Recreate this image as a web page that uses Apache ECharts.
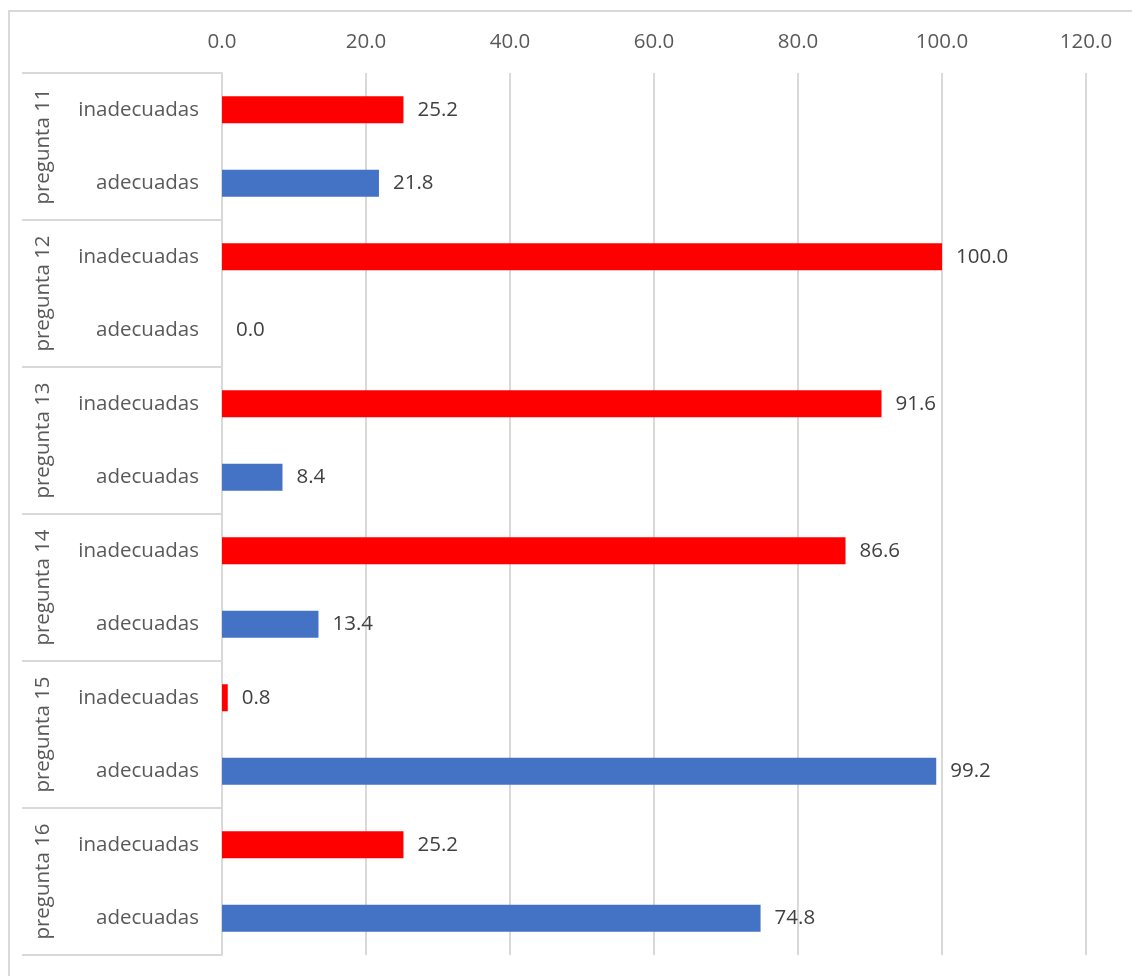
<!DOCTYPE html>
<html>
<head>
<meta charset="utf-8">
<script src="https://cdn.jsdelivr.net/npm/echarts@6/dist/echarts.min.js"></script>
<style>
  html, body { margin: 0; padding: 0; background: #fff; }
  #frame { position: absolute; left: 8px; top: 10px; width: 1200px; height: 1100px; border: 2px solid #d9d9d9; box-sizing: border-box; }
  #chart { position: absolute; left: 0; top: 0; width: 1132px; height: 976px; }
</style>
</head>
<body>
<div id="frame"></div>
<div id="chart"></div>
<script>
const groups = ['pregunta 11', 'pregunta 12', 'pregunta 13', 'pregunta 14', 'pregunta 15', 'pregunta 16'];
const subLabels = ['inadecuadas', 'adecuadas'];
const inadecuadas = [25.2, 100.0, 91.6, 86.6, 0.8, 25.2];
const adecuadas = [21.8, 0.0, 8.4, 13.4, 99.2, 74.8];
const xTicks = [0, 20, 40, 60, 80, 100, 120];

const rowLabels = [];
const inadData = [];
const adData = [];
groups.forEach((g, i) => {
  rowLabels.push(subLabels[0]);
  rowLabels.push(subLabels[1]);
  inadData.push(inadecuadas[i], '-');
  adData.push('-', adecuadas[i]);
});

const FONT = 'Open Sans';
const FS = 20.5;
const chart = echarts.init(document.getElementById('chart'));
const labelCfg = {
  show: true,
  position: 'right',
  distance: 14,
  color: '#404040',
  fontFamily: FONT,
  fontSize: FS,
  formatter: p => (typeof p.value === 'number' ? p.value.toFixed(1) : '')
};
chart.setOption({
  animation: false,
  backgroundColor: 'transparent',
  grid: { left: 222, right: 46, top: 73, bottom: 21, containLabel: false },
  xAxis: {
    type: 'value',
    position: 'top',
    min: xTicks[0],
    max: xTicks[xTicks.length - 1],
    interval: 20,
    axisLine: { show: false },
    axisTick: { show: false },
    axisLabel: {
      color: '#595959', fontFamily: FONT, fontSize: FS, margin: 20,
      formatter: v => v.toFixed(1)
    },
    splitLine: { show: true, lineStyle: { color: '#d9d9d9', width: 2 } }
  },
  yAxis: [
    {
      type: 'category',
      data: rowLabels,
      inverse: true,
      axisLine: { show: true, lineStyle: { color: '#d9d9d9', width: 2 } },
      axisTick: { show: false },
      axisLabel: { interval: 0, margin: 23, color: '#595959', fontFamily: FONT, fontSize: FS }
    },
    {
      type: 'category',
      data: groups,
      inverse: true,
      position: 'left',
      offset: 0,
      axisLine: { show: false },
      axisTick: { show: true, interval: 0, length: 200, lineStyle: { color: '#d9d9d9', width: 2 } },
      axisLabel: { interval: 0, rotate: 90, margin: 168, color: '#595959', fontFamily: FONT, fontSize: FS }
    }
  ],
  series: [
    {
      name: 'inadecuadas',
      type: 'bar',
      stack: 'v',
      yAxisIndex: 0,
      barWidth: 27,
      itemStyle: { color: '#ff0000' },
      label: labelCfg,
      data: inadData
    },
    {
      name: 'adecuadas',
      type: 'bar',
      stack: 'v',
      yAxisIndex: 0,
      barWidth: 27,
      itemStyle: { color: '#4472c4' },
      label: labelCfg,
      data: adData
    }
  ]
});
</script>
</body>
</html>
